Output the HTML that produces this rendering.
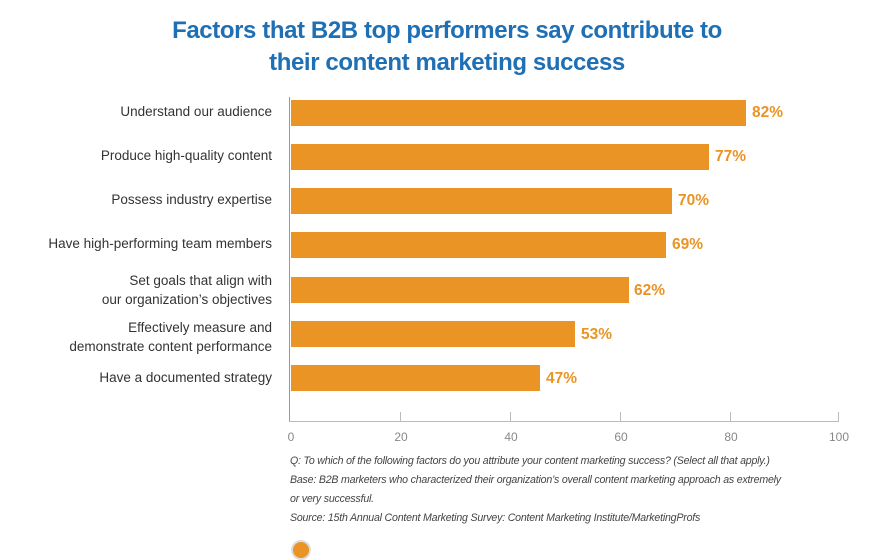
<!DOCTYPE html>
<html><head><style>
body{margin:0;width:894px;height:548px;background:#fff;overflow:hidden;font-family:"Liberation Sans",sans-serif;position:relative}
.t{position:absolute;left:0;width:894px;text-align:center;color:#1f6fb5;font-weight:bold;font-size:24px;letter-spacing:-0.4px}
.lab{position:absolute;right:622px;text-align:right;color:#333;font-size:13.5px;line-height:19px}
.bar{position:absolute;left:291px;height:26px;background:#e99424}
.v{position:absolute;color:#e99424;font-weight:bold;font-size:15.5px}
.tk{position:absolute;top:430px;color:#888;font-size:12px;transform:translateX(-50%)}
.n{position:absolute;left:290px;color:#444;font-style:italic;font-size:10.6px;line-height:19px;letter-spacing:-0.2px}
</style></head><body>
<div class="t" style="top:17px">Factors that B2B top performers say contribute to</div>
<div class="t" style="top:49px">their content marketing success</div>
<div style="position:absolute;left:289px;top:97px;width:1px;height:325px;background:#999"></div>
<div style="position:absolute;left:289px;top:421px;width:550px;height:1px;background:#bbb"></div>
<div style="position:absolute;left:400px;top:412px;width:1px;height:10px;background:#bbb"></div>
<div style="position:absolute;left:510px;top:412px;width:1px;height:10px;background:#bbb"></div>
<div style="position:absolute;left:620px;top:412px;width:1px;height:10px;background:#bbb"></div>
<div style="position:absolute;left:730px;top:412px;width:1px;height:10px;background:#bbb"></div>
<div style="position:absolute;left:838px;top:412px;width:1px;height:10px;background:#bbb"></div>
<div class="lab" style="top:102px">Understand our audience</div>
<div class="lab" style="top:146px">Produce high-quality content</div>
<div class="lab" style="top:190px">Possess industry expertise</div>
<div class="lab" style="top:234px">Have high-performing team members</div>
<div class="lab" style="top:271px">Set goals that align with<br>our organization’s objectives</div>
<div class="lab" style="top:318px">Effectively measure and<br>demonstrate content performance</div>
<div class="lab" style="top:368px">Have a documented strategy</div>
<div class="bar" style="top:100px;width:455px"></div><div class="v" style="left:752px;top:104px">82%</div>
<div class="bar" style="top:144px;width:418px"></div><div class="v" style="left:715px;top:148px">77%</div>
<div class="bar" style="top:188px;width:381px"></div><div class="v" style="left:678px;top:192px">70%</div>
<div class="bar" style="top:232px;width:375px"></div><div class="v" style="left:672px;top:236px">69%</div>
<div class="bar" style="top:277px;width:338px"></div><div class="v" style="left:634px;top:282px">62%</div>
<div class="bar" style="top:321px;width:284px"></div><div class="v" style="left:581px;top:326px">53%</div>
<div class="bar" style="top:365px;width:249px"></div><div class="v" style="left:546px;top:370px">47%</div>
<div class="tk" style="left:291px">0</div><div class="tk" style="left:401px">20</div><div class="tk" style="left:511px">40</div><div class="tk" style="left:621px">60</div><div class="tk" style="left:731px">80</div><div class="tk" style="left:839px">100</div>
<div class="n" style="top:452px">Q: To which of the following factors do you attribute your content marketing success? (Select all that apply.)</div>
<div class="n" style="top:471px">Base: B2B marketers who characterized their organization’s overall content marketing approach as extremely</div>
<div class="n" style="top:490px">or very successful.</div>
<div class="n" style="top:509px">Source: 15th Annual Content Marketing Survey: Content Marketing Institute/MarketingProfs</div>
<div style="position:absolute;left:291px;top:540px;width:16px;height:16px;border-radius:50%;background:#e99424;border:2px solid #ddd"></div>
</body></html>
